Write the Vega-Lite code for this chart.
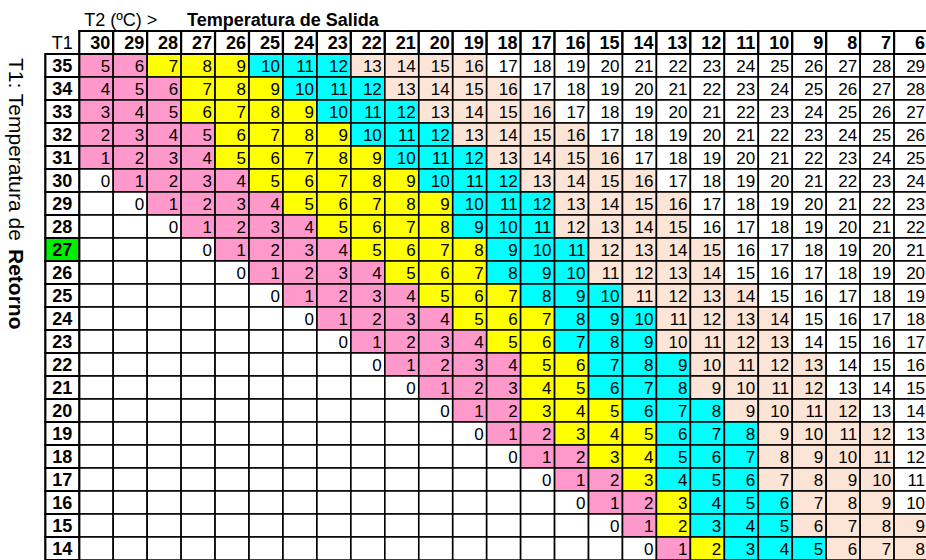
{
"$schema": "https://vega.github.io/schema/vega-lite/v6.json",
"width": 914.65, "height": 552,
"autosize": {"type": "none"},
"padding": {"left": 11.35, "top": 8, "right": 0, "bottom": 0},
"background": "white",
"config": {"view": {"stroke": null}, "font": "Liberation Sans"},
"datasets": {
"cells": [
{"a":"35","b":"30","v":5,"k":"p"},{"a":"35","b":"29","v":6,"k":"p"},{"a":"35","b":"28","v":7,"k":"y"},{"a":"35","b":"27","v":8,"k":"y"},{"a":"35","b":"26","v":9,"k":"y"},{"a":"35","b":"25","v":10,"k":"c"},{"a":"35","b":"24","v":11,"k":"c"},{"a":"35","b":"23","v":12,"k":"c"},{"a":"35","b":"22","v":13,"k":"o"},{"a":"35","b":"21","v":14,"k":"o"},{"a":"35","b":"20","v":15,"k":"o"},{"a":"35","b":"19","v":16,"k":"o"},{"a":"35","b":"18","v":17,"k":"w"},{"a":"35","b":"17","v":18,"k":"w"},{"a":"35","b":"16","v":19,"k":"w"},{"a":"35","b":"15","v":20,"k":"w"},{"a":"35","b":"14","v":21,"k":"w"},{"a":"35","b":"13","v":22,"k":"w"},{"a":"35","b":"12","v":23,"k":"w"},{"a":"35","b":"11","v":24,"k":"w"},{"a":"35","b":"10","v":25,"k":"w"},{"a":"35","b":"9","v":26,"k":"w"},{"a":"35","b":"8","v":27,"k":"w"},{"a":"35","b":"7","v":28,"k":"w"},{"a":"35","b":"6","v":29,"k":"w"},
{"a":"34","b":"30","v":4,"k":"p"},{"a":"34","b":"29","v":5,"k":"p"},{"a":"34","b":"28","v":6,"k":"p"},{"a":"34","b":"27","v":7,"k":"y"},{"a":"34","b":"26","v":8,"k":"y"},{"a":"34","b":"25","v":9,"k":"y"},{"a":"34","b":"24","v":10,"k":"c"},{"a":"34","b":"23","v":11,"k":"c"},{"a":"34","b":"22","v":12,"k":"c"},{"a":"34","b":"21","v":13,"k":"o"},{"a":"34","b":"20","v":14,"k":"o"},{"a":"34","b":"19","v":15,"k":"o"},{"a":"34","b":"18","v":16,"k":"o"},{"a":"34","b":"17","v":17,"k":"w"},{"a":"34","b":"16","v":18,"k":"w"},{"a":"34","b":"15","v":19,"k":"w"},{"a":"34","b":"14","v":20,"k":"w"},{"a":"34","b":"13","v":21,"k":"w"},{"a":"34","b":"12","v":22,"k":"w"},{"a":"34","b":"11","v":23,"k":"w"},{"a":"34","b":"10","v":24,"k":"w"},{"a":"34","b":"9","v":25,"k":"w"},{"a":"34","b":"8","v":26,"k":"w"},{"a":"34","b":"7","v":27,"k":"w"},{"a":"34","b":"6","v":28,"k":"w"},
{"a":"33","b":"30","v":3,"k":"p"},{"a":"33","b":"29","v":4,"k":"p"},{"a":"33","b":"28","v":5,"k":"p"},{"a":"33","b":"27","v":6,"k":"y"},{"a":"33","b":"26","v":7,"k":"y"},{"a":"33","b":"25","v":8,"k":"y"},{"a":"33","b":"24","v":9,"k":"y"},{"a":"33","b":"23","v":10,"k":"c"},{"a":"33","b":"22","v":11,"k":"c"},{"a":"33","b":"21","v":12,"k":"c"},{"a":"33","b":"20","v":13,"k":"o"},{"a":"33","b":"19","v":14,"k":"o"},{"a":"33","b":"18","v":15,"k":"o"},{"a":"33","b":"17","v":16,"k":"o"},{"a":"33","b":"16","v":17,"k":"w"},{"a":"33","b":"15","v":18,"k":"w"},{"a":"33","b":"14","v":19,"k":"w"},{"a":"33","b":"13","v":20,"k":"w"},{"a":"33","b":"12","v":21,"k":"w"},{"a":"33","b":"11","v":22,"k":"w"},{"a":"33","b":"10","v":23,"k":"w"},{"a":"33","b":"9","v":24,"k":"w"},{"a":"33","b":"8","v":25,"k":"w"},{"a":"33","b":"7","v":26,"k":"w"},{"a":"33","b":"6","v":27,"k":"w"},
{"a":"32","b":"30","v":2,"k":"p"},{"a":"32","b":"29","v":3,"k":"p"},{"a":"32","b":"28","v":4,"k":"p"},{"a":"32","b":"27","v":5,"k":"p"},{"a":"32","b":"26","v":6,"k":"y"},{"a":"32","b":"25","v":7,"k":"y"},{"a":"32","b":"24","v":8,"k":"y"},{"a":"32","b":"23","v":9,"k":"y"},{"a":"32","b":"22","v":10,"k":"c"},{"a":"32","b":"21","v":11,"k":"c"},{"a":"32","b":"20","v":12,"k":"c"},{"a":"32","b":"19","v":13,"k":"o"},{"a":"32","b":"18","v":14,"k":"o"},{"a":"32","b":"17","v":15,"k":"o"},{"a":"32","b":"16","v":16,"k":"o"},{"a":"32","b":"15","v":17,"k":"w"},{"a":"32","b":"14","v":18,"k":"w"},{"a":"32","b":"13","v":19,"k":"w"},{"a":"32","b":"12","v":20,"k":"w"},{"a":"32","b":"11","v":21,"k":"w"},{"a":"32","b":"10","v":22,"k":"w"},{"a":"32","b":"9","v":23,"k":"w"},{"a":"32","b":"8","v":24,"k":"w"},{"a":"32","b":"7","v":25,"k":"w"},{"a":"32","b":"6","v":26,"k":"w"},
{"a":"31","b":"30","v":1,"k":"p"},{"a":"31","b":"29","v":2,"k":"p"},{"a":"31","b":"28","v":3,"k":"p"},{"a":"31","b":"27","v":4,"k":"p"},{"a":"31","b":"26","v":5,"k":"y"},{"a":"31","b":"25","v":6,"k":"y"},{"a":"31","b":"24","v":7,"k":"y"},{"a":"31","b":"23","v":8,"k":"y"},{"a":"31","b":"22","v":9,"k":"y"},{"a":"31","b":"21","v":10,"k":"c"},{"a":"31","b":"20","v":11,"k":"c"},{"a":"31","b":"19","v":12,"k":"c"},{"a":"31","b":"18","v":13,"k":"o"},{"a":"31","b":"17","v":14,"k":"o"},{"a":"31","b":"16","v":15,"k":"o"},{"a":"31","b":"15","v":16,"k":"o"},{"a":"31","b":"14","v":17,"k":"w"},{"a":"31","b":"13","v":18,"k":"w"},{"a":"31","b":"12","v":19,"k":"w"},{"a":"31","b":"11","v":20,"k":"w"},{"a":"31","b":"10","v":21,"k":"w"},{"a":"31","b":"9","v":22,"k":"w"},{"a":"31","b":"8","v":23,"k":"w"},{"a":"31","b":"7","v":24,"k":"w"},{"a":"31","b":"6","v":25,"k":"w"},
{"a":"30","b":"30","v":0,"k":"w"},{"a":"30","b":"29","v":1,"k":"p"},{"a":"30","b":"28","v":2,"k":"p"},{"a":"30","b":"27","v":3,"k":"p"},{"a":"30","b":"26","v":4,"k":"p"},{"a":"30","b":"25","v":5,"k":"y"},{"a":"30","b":"24","v":6,"k":"y"},{"a":"30","b":"23","v":7,"k":"y"},{"a":"30","b":"22","v":8,"k":"y"},{"a":"30","b":"21","v":9,"k":"y"},{"a":"30","b":"20","v":10,"k":"c"},{"a":"30","b":"19","v":11,"k":"c"},{"a":"30","b":"18","v":12,"k":"c"},{"a":"30","b":"17","v":13,"k":"o"},{"a":"30","b":"16","v":14,"k":"o"},{"a":"30","b":"15","v":15,"k":"o"},{"a":"30","b":"14","v":16,"k":"o"},{"a":"30","b":"13","v":17,"k":"w"},{"a":"30","b":"12","v":18,"k":"w"},{"a":"30","b":"11","v":19,"k":"w"},{"a":"30","b":"10","v":20,"k":"w"},{"a":"30","b":"9","v":21,"k":"w"},{"a":"30","b":"8","v":22,"k":"w"},{"a":"30","b":"7","v":23,"k":"w"},{"a":"30","b":"6","v":24,"k":"w"},
{"a":"29","b":"30","k":"w"},{"a":"29","b":"29","v":0,"k":"w"},{"a":"29","b":"28","v":1,"k":"p"},{"a":"29","b":"27","v":2,"k":"p"},{"a":"29","b":"26","v":3,"k":"p"},{"a":"29","b":"25","v":4,"k":"p"},{"a":"29","b":"24","v":5,"k":"y"},{"a":"29","b":"23","v":6,"k":"y"},{"a":"29","b":"22","v":7,"k":"y"},{"a":"29","b":"21","v":8,"k":"y"},{"a":"29","b":"20","v":9,"k":"y"},{"a":"29","b":"19","v":10,"k":"c"},{"a":"29","b":"18","v":11,"k":"c"},{"a":"29","b":"17","v":12,"k":"c"},{"a":"29","b":"16","v":13,"k":"o"},{"a":"29","b":"15","v":14,"k":"o"},{"a":"29","b":"14","v":15,"k":"o"},{"a":"29","b":"13","v":16,"k":"o"},{"a":"29","b":"12","v":17,"k":"w"},{"a":"29","b":"11","v":18,"k":"w"},{"a":"29","b":"10","v":19,"k":"w"},{"a":"29","b":"9","v":20,"k":"w"},{"a":"29","b":"8","v":21,"k":"w"},{"a":"29","b":"7","v":22,"k":"w"},{"a":"29","b":"6","v":23,"k":"w"},
{"a":"28","b":"30","k":"w"},{"a":"28","b":"29","k":"w"},{"a":"28","b":"28","v":0,"k":"w"},{"a":"28","b":"27","v":1,"k":"p"},{"a":"28","b":"26","v":2,"k":"p"},{"a":"28","b":"25","v":3,"k":"p"},{"a":"28","b":"24","v":4,"k":"p"},{"a":"28","b":"23","v":5,"k":"y"},{"a":"28","b":"22","v":6,"k":"y"},{"a":"28","b":"21","v":7,"k":"y"},{"a":"28","b":"20","v":8,"k":"y"},{"a":"28","b":"19","v":9,"k":"c"},{"a":"28","b":"18","v":10,"k":"c"},{"a":"28","b":"17","v":11,"k":"c"},{"a":"28","b":"16","v":12,"k":"o"},{"a":"28","b":"15","v":13,"k":"o"},{"a":"28","b":"14","v":14,"k":"o"},{"a":"28","b":"13","v":15,"k":"o"},{"a":"28","b":"12","v":16,"k":"w"},{"a":"28","b":"11","v":17,"k":"w"},{"a":"28","b":"10","v":18,"k":"w"},{"a":"28","b":"9","v":19,"k":"w"},{"a":"28","b":"8","v":20,"k":"w"},{"a":"28","b":"7","v":21,"k":"w"},{"a":"28","b":"6","v":22,"k":"w"},
{"a":"27","b":"30","k":"w"},{"a":"27","b":"29","k":"w"},{"a":"27","b":"28","k":"w"},{"a":"27","b":"27","v":0,"k":"w"},{"a":"27","b":"26","v":1,"k":"p"},{"a":"27","b":"25","v":2,"k":"p"},{"a":"27","b":"24","v":3,"k":"p"},{"a":"27","b":"23","v":4,"k":"p"},{"a":"27","b":"22","v":5,"k":"y"},{"a":"27","b":"21","v":6,"k":"y"},{"a":"27","b":"20","v":7,"k":"y"},{"a":"27","b":"19","v":8,"k":"y"},{"a":"27","b":"18","v":9,"k":"c"},{"a":"27","b":"17","v":10,"k":"c"},{"a":"27","b":"16","v":11,"k":"c"},{"a":"27","b":"15","v":12,"k":"o"},{"a":"27","b":"14","v":13,"k":"o"},{"a":"27","b":"13","v":14,"k":"o"},{"a":"27","b":"12","v":15,"k":"o"},{"a":"27","b":"11","v":16,"k":"w"},{"a":"27","b":"10","v":17,"k":"w"},{"a":"27","b":"9","v":18,"k":"w"},{"a":"27","b":"8","v":19,"k":"w"},{"a":"27","b":"7","v":20,"k":"w"},{"a":"27","b":"6","v":21,"k":"w"},
{"a":"26","b":"30","k":"w"},{"a":"26","b":"29","k":"w"},{"a":"26","b":"28","k":"w"},{"a":"26","b":"27","k":"w"},{"a":"26","b":"26","v":0,"k":"w"},{"a":"26","b":"25","v":1,"k":"p"},{"a":"26","b":"24","v":2,"k":"p"},{"a":"26","b":"23","v":3,"k":"p"},{"a":"26","b":"22","v":4,"k":"p"},{"a":"26","b":"21","v":5,"k":"y"},{"a":"26","b":"20","v":6,"k":"y"},{"a":"26","b":"19","v":7,"k":"y"},{"a":"26","b":"18","v":8,"k":"c"},{"a":"26","b":"17","v":9,"k":"c"},{"a":"26","b":"16","v":10,"k":"c"},{"a":"26","b":"15","v":11,"k":"o"},{"a":"26","b":"14","v":12,"k":"o"},{"a":"26","b":"13","v":13,"k":"o"},{"a":"26","b":"12","v":14,"k":"o"},{"a":"26","b":"11","v":15,"k":"w"},{"a":"26","b":"10","v":16,"k":"w"},{"a":"26","b":"9","v":17,"k":"w"},{"a":"26","b":"8","v":18,"k":"w"},{"a":"26","b":"7","v":19,"k":"w"},{"a":"26","b":"6","v":20,"k":"w"},
{"a":"25","b":"30","k":"w"},{"a":"25","b":"29","k":"w"},{"a":"25","b":"28","k":"w"},{"a":"25","b":"27","k":"w"},{"a":"25","b":"26","k":"w"},{"a":"25","b":"25","v":0,"k":"w"},{"a":"25","b":"24","v":1,"k":"p"},{"a":"25","b":"23","v":2,"k":"p"},{"a":"25","b":"22","v":3,"k":"p"},{"a":"25","b":"21","v":4,"k":"p"},{"a":"25","b":"20","v":5,"k":"y"},{"a":"25","b":"19","v":6,"k":"y"},{"a":"25","b":"18","v":7,"k":"y"},{"a":"25","b":"17","v":8,"k":"c"},{"a":"25","b":"16","v":9,"k":"c"},{"a":"25","b":"15","v":10,"k":"c"},{"a":"25","b":"14","v":11,"k":"o"},{"a":"25","b":"13","v":12,"k":"o"},{"a":"25","b":"12","v":13,"k":"o"},{"a":"25","b":"11","v":14,"k":"o"},{"a":"25","b":"10","v":15,"k":"w"},{"a":"25","b":"9","v":16,"k":"w"},{"a":"25","b":"8","v":17,"k":"w"},{"a":"25","b":"7","v":18,"k":"w"},{"a":"25","b":"6","v":19,"k":"w"},
{"a":"24","b":"30","k":"w"},{"a":"24","b":"29","k":"w"},{"a":"24","b":"28","k":"w"},{"a":"24","b":"27","k":"w"},{"a":"24","b":"26","k":"w"},{"a":"24","b":"25","k":"w"},{"a":"24","b":"24","v":0,"k":"w"},{"a":"24","b":"23","v":1,"k":"p"},{"a":"24","b":"22","v":2,"k":"p"},{"a":"24","b":"21","v":3,"k":"p"},{"a":"24","b":"20","v":4,"k":"p"},{"a":"24","b":"19","v":5,"k":"y"},{"a":"24","b":"18","v":6,"k":"y"},{"a":"24","b":"17","v":7,"k":"y"},{"a":"24","b":"16","v":8,"k":"c"},{"a":"24","b":"15","v":9,"k":"c"},{"a":"24","b":"14","v":10,"k":"c"},{"a":"24","b":"13","v":11,"k":"o"},{"a":"24","b":"12","v":12,"k":"o"},{"a":"24","b":"11","v":13,"k":"o"},{"a":"24","b":"10","v":14,"k":"o"},{"a":"24","b":"9","v":15,"k":"w"},{"a":"24","b":"8","v":16,"k":"w"},{"a":"24","b":"7","v":17,"k":"w"},{"a":"24","b":"6","v":18,"k":"w"},
{"a":"23","b":"30","k":"w"},{"a":"23","b":"29","k":"w"},{"a":"23","b":"28","k":"w"},{"a":"23","b":"27","k":"w"},{"a":"23","b":"26","k":"w"},{"a":"23","b":"25","k":"w"},{"a":"23","b":"24","k":"w"},{"a":"23","b":"23","v":0,"k":"w"},{"a":"23","b":"22","v":1,"k":"p"},{"a":"23","b":"21","v":2,"k":"p"},{"a":"23","b":"20","v":3,"k":"p"},{"a":"23","b":"19","v":4,"k":"p"},{"a":"23","b":"18","v":5,"k":"y"},{"a":"23","b":"17","v":6,"k":"y"},{"a":"23","b":"16","v":7,"k":"c"},{"a":"23","b":"15","v":8,"k":"c"},{"a":"23","b":"14","v":9,"k":"c"},{"a":"23","b":"13","v":10,"k":"o"},{"a":"23","b":"12","v":11,"k":"o"},{"a":"23","b":"11","v":12,"k":"o"},{"a":"23","b":"10","v":13,"k":"o"},{"a":"23","b":"9","v":14,"k":"w"},{"a":"23","b":"8","v":15,"k":"w"},{"a":"23","b":"7","v":16,"k":"w"},{"a":"23","b":"6","v":17,"k":"w"},
{"a":"22","b":"30","k":"w"},{"a":"22","b":"29","k":"w"},{"a":"22","b":"28","k":"w"},{"a":"22","b":"27","k":"w"},{"a":"22","b":"26","k":"w"},{"a":"22","b":"25","k":"w"},{"a":"22","b":"24","k":"w"},{"a":"22","b":"23","k":"w"},{"a":"22","b":"22","v":0,"k":"w"},{"a":"22","b":"21","v":1,"k":"p"},{"a":"22","b":"20","v":2,"k":"p"},{"a":"22","b":"19","v":3,"k":"p"},{"a":"22","b":"18","v":4,"k":"p"},{"a":"22","b":"17","v":5,"k":"y"},{"a":"22","b":"16","v":6,"k":"y"},{"a":"22","b":"15","v":7,"k":"c"},{"a":"22","b":"14","v":8,"k":"c"},{"a":"22","b":"13","v":9,"k":"c"},{"a":"22","b":"12","v":10,"k":"o"},{"a":"22","b":"11","v":11,"k":"o"},{"a":"22","b":"10","v":12,"k":"o"},{"a":"22","b":"9","v":13,"k":"o"},{"a":"22","b":"8","v":14,"k":"w"},{"a":"22","b":"7","v":15,"k":"w"},{"a":"22","b":"6","v":16,"k":"w"},
{"a":"21","b":"30","k":"w"},{"a":"21","b":"29","k":"w"},{"a":"21","b":"28","k":"w"},{"a":"21","b":"27","k":"w"},{"a":"21","b":"26","k":"w"},{"a":"21","b":"25","k":"w"},{"a":"21","b":"24","k":"w"},{"a":"21","b":"23","k":"w"},{"a":"21","b":"22","k":"w"},{"a":"21","b":"21","v":0,"k":"w"},{"a":"21","b":"20","v":1,"k":"p"},{"a":"21","b":"19","v":2,"k":"p"},{"a":"21","b":"18","v":3,"k":"p"},{"a":"21","b":"17","v":4,"k":"y"},{"a":"21","b":"16","v":5,"k":"y"},{"a":"21","b":"15","v":6,"k":"c"},{"a":"21","b":"14","v":7,"k":"c"},{"a":"21","b":"13","v":8,"k":"c"},{"a":"21","b":"12","v":9,"k":"o"},{"a":"21","b":"11","v":10,"k":"o"},{"a":"21","b":"10","v":11,"k":"o"},{"a":"21","b":"9","v":12,"k":"o"},{"a":"21","b":"8","v":13,"k":"w"},{"a":"21","b":"7","v":14,"k":"w"},{"a":"21","b":"6","v":15,"k":"w"},
{"a":"20","b":"30","k":"w"},{"a":"20","b":"29","k":"w"},{"a":"20","b":"28","k":"w"},{"a":"20","b":"27","k":"w"},{"a":"20","b":"26","k":"w"},{"a":"20","b":"25","k":"w"},{"a":"20","b":"24","k":"w"},{"a":"20","b":"23","k":"w"},{"a":"20","b":"22","k":"w"},{"a":"20","b":"21","k":"w"},{"a":"20","b":"20","v":0,"k":"w"},{"a":"20","b":"19","v":1,"k":"p"},{"a":"20","b":"18","v":2,"k":"p"},{"a":"20","b":"17","v":3,"k":"y"},{"a":"20","b":"16","v":4,"k":"y"},{"a":"20","b":"15","v":5,"k":"y"},{"a":"20","b":"14","v":6,"k":"c"},{"a":"20","b":"13","v":7,"k":"c"},{"a":"20","b":"12","v":8,"k":"c"},{"a":"20","b":"11","v":9,"k":"o"},{"a":"20","b":"10","v":10,"k":"o"},{"a":"20","b":"9","v":11,"k":"o"},{"a":"20","b":"8","v":12,"k":"o"},{"a":"20","b":"7","v":13,"k":"w"},{"a":"20","b":"6","v":14,"k":"w"},
{"a":"19","b":"30","k":"w"},{"a":"19","b":"29","k":"w"},{"a":"19","b":"28","k":"w"},{"a":"19","b":"27","k":"w"},{"a":"19","b":"26","k":"w"},{"a":"19","b":"25","k":"w"},{"a":"19","b":"24","k":"w"},{"a":"19","b":"23","k":"w"},{"a":"19","b":"22","k":"w"},{"a":"19","b":"21","k":"w"},{"a":"19","b":"20","k":"w"},{"a":"19","b":"19","v":0,"k":"w"},{"a":"19","b":"18","v":1,"k":"p"},{"a":"19","b":"17","v":2,"k":"p"},{"a":"19","b":"16","v":3,"k":"y"},{"a":"19","b":"15","v":4,"k":"y"},{"a":"19","b":"14","v":5,"k":"y"},{"a":"19","b":"13","v":6,"k":"c"},{"a":"19","b":"12","v":7,"k":"c"},{"a":"19","b":"11","v":8,"k":"c"},{"a":"19","b":"10","v":9,"k":"o"},{"a":"19","b":"9","v":10,"k":"o"},{"a":"19","b":"8","v":11,"k":"o"},{"a":"19","b":"7","v":12,"k":"o"},{"a":"19","b":"6","v":13,"k":"w"},
{"a":"18","b":"30","k":"w"},{"a":"18","b":"29","k":"w"},{"a":"18","b":"28","k":"w"},{"a":"18","b":"27","k":"w"},{"a":"18","b":"26","k":"w"},{"a":"18","b":"25","k":"w"},{"a":"18","b":"24","k":"w"},{"a":"18","b":"23","k":"w"},{"a":"18","b":"22","k":"w"},{"a":"18","b":"21","k":"w"},{"a":"18","b":"20","k":"w"},{"a":"18","b":"19","k":"w"},{"a":"18","b":"18","v":0,"k":"w"},{"a":"18","b":"17","v":1,"k":"p"},{"a":"18","b":"16","v":2,"k":"p"},{"a":"18","b":"15","v":3,"k":"y"},{"a":"18","b":"14","v":4,"k":"y"},{"a":"18","b":"13","v":5,"k":"c"},{"a":"18","b":"12","v":6,"k":"c"},{"a":"18","b":"11","v":7,"k":"c"},{"a":"18","b":"10","v":8,"k":"o"},{"a":"18","b":"9","v":9,"k":"o"},{"a":"18","b":"8","v":10,"k":"o"},{"a":"18","b":"7","v":11,"k":"o"},{"a":"18","b":"6","v":12,"k":"w"},
{"a":"17","b":"30","k":"w"},{"a":"17","b":"29","k":"w"},{"a":"17","b":"28","k":"w"},{"a":"17","b":"27","k":"w"},{"a":"17","b":"26","k":"w"},{"a":"17","b":"25","k":"w"},{"a":"17","b":"24","k":"w"},{"a":"17","b":"23","k":"w"},{"a":"17","b":"22","k":"w"},{"a":"17","b":"21","k":"w"},{"a":"17","b":"20","k":"w"},{"a":"17","b":"19","k":"w"},{"a":"17","b":"18","k":"w"},{"a":"17","b":"17","v":0,"k":"w"},{"a":"17","b":"16","v":1,"k":"p"},{"a":"17","b":"15","v":2,"k":"p"},{"a":"17","b":"14","v":3,"k":"y"},{"a":"17","b":"13","v":4,"k":"c"},{"a":"17","b":"12","v":5,"k":"c"},{"a":"17","b":"11","v":6,"k":"c"},{"a":"17","b":"10","v":7,"k":"o"},{"a":"17","b":"9","v":8,"k":"o"},{"a":"17","b":"8","v":9,"k":"o"},{"a":"17","b":"7","v":10,"k":"o"},{"a":"17","b":"6","v":11,"k":"w"},
{"a":"16","b":"30","k":"w"},{"a":"16","b":"29","k":"w"},{"a":"16","b":"28","k":"w"},{"a":"16","b":"27","k":"w"},{"a":"16","b":"26","k":"w"},{"a":"16","b":"25","k":"w"},{"a":"16","b":"24","k":"w"},{"a":"16","b":"23","k":"w"},{"a":"16","b":"22","k":"w"},{"a":"16","b":"21","k":"w"},{"a":"16","b":"20","k":"w"},{"a":"16","b":"19","k":"w"},{"a":"16","b":"18","k":"w"},{"a":"16","b":"17","k":"w"},{"a":"16","b":"16","v":0,"k":"w"},{"a":"16","b":"15","v":1,"k":"p"},{"a":"16","b":"14","v":2,"k":"p"},{"a":"16","b":"13","v":3,"k":"y"},{"a":"16","b":"12","v":4,"k":"c"},{"a":"16","b":"11","v":5,"k":"c"},{"a":"16","b":"10","v":6,"k":"c"},{"a":"16","b":"9","v":7,"k":"o"},{"a":"16","b":"8","v":8,"k":"o"},{"a":"16","b":"7","v":9,"k":"o"},{"a":"16","b":"6","v":10,"k":"w"},
{"a":"15","b":"30","k":"w"},{"a":"15","b":"29","k":"w"},{"a":"15","b":"28","k":"w"},{"a":"15","b":"27","k":"w"},{"a":"15","b":"26","k":"w"},{"a":"15","b":"25","k":"w"},{"a":"15","b":"24","k":"w"},{"a":"15","b":"23","k":"w"},{"a":"15","b":"22","k":"w"},{"a":"15","b":"21","k":"w"},{"a":"15","b":"20","k":"w"},{"a":"15","b":"19","k":"w"},{"a":"15","b":"18","k":"w"},{"a":"15","b":"17","k":"w"},{"a":"15","b":"16","k":"w"},{"a":"15","b":"15","v":0,"k":"w"},{"a":"15","b":"14","v":1,"k":"p"},{"a":"15","b":"13","v":2,"k":"y"},{"a":"15","b":"12","v":3,"k":"c"},{"a":"15","b":"11","v":4,"k":"c"},{"a":"15","b":"10","v":5,"k":"c"},{"a":"15","b":"9","v":6,"k":"o"},{"a":"15","b":"8","v":7,"k":"o"},{"a":"15","b":"7","v":8,"k":"o"},{"a":"15","b":"6","v":9,"k":"o"},
{"a":"14","b":"30","k":"w"},{"a":"14","b":"29","k":"w"},{"a":"14","b":"28","k":"w"},{"a":"14","b":"27","k":"w"},{"a":"14","b":"26","k":"w"},{"a":"14","b":"25","k":"w"},{"a":"14","b":"24","k":"w"},{"a":"14","b":"23","k":"w"},{"a":"14","b":"22","k":"w"},{"a":"14","b":"21","k":"w"},{"a":"14","b":"20","k":"w"},{"a":"14","b":"19","k":"w"},{"a":"14","b":"18","k":"w"},{"a":"14","b":"17","k":"w"},{"a":"14","b":"16","k":"w"},{"a":"14","b":"15","k":"w"},{"a":"14","b":"14","v":0,"k":"w"},{"a":"14","b":"13","v":1,"k":"p"},{"a":"14","b":"12","v":2,"k":"y"},{"a":"14","b":"11","v":3,"k":"c"},{"a":"14","b":"10","v":4,"k":"c"},{"a":"14","b":"9","v":5,"k":"c"},{"a":"14","b":"8","v":6,"k":"o"},{"a":"14","b":"7","v":7,"k":"o"},{"a":"14","b":"6","v":8,"k":"o"}
],
"hdr": [
{"a":"H","b":"30","t":"30","k":"w"},{"a":"H","b":"29","t":"29","k":"w"},{"a":"H","b":"28","t":"28","k":"w"},{"a":"H","b":"27","t":"27","k":"w"},{"a":"H","b":"26","t":"26","k":"w"},{"a":"H","b":"25","t":"25","k":"w"},{"a":"H","b":"24","t":"24","k":"w"},{"a":"H","b":"23","t":"23","k":"w"},{"a":"H","b":"22","t":"22","k":"w"},{"a":"H","b":"21","t":"21","k":"w"},{"a":"H","b":"20","t":"20","k":"w"},{"a":"H","b":"19","t":"19","k":"w"},{"a":"H","b":"18","t":"18","k":"w"},{"a":"H","b":"17","t":"17","k":"w"},{"a":"H","b":"16","t":"16","k":"w"},{"a":"H","b":"15","t":"15","k":"w"},{"a":"H","b":"14","t":"14","k":"w"},{"a":"H","b":"13","t":"13","k":"w"},{"a":"H","b":"12","t":"12","k":"w"},{"a":"H","b":"11","t":"11","k":"w"},{"a":"H","b":"10","t":"10","k":"w"},{"a":"H","b":"9","t":"9","k":"w"},{"a":"H","b":"8","t":"8","k":"w"},{"a":"H","b":"7","t":"7","k":"w"},{"a":"H","b":"6","t":"6","k":"w"},
{"a":"35","b":"T1","t":"35","k":"w"},{"a":"34","b":"T1","t":"34","k":"w"},{"a":"33","b":"T1","t":"33","k":"w"},{"a":"32","b":"T1","t":"32","k":"w"},{"a":"31","b":"T1","t":"31","k":"w"},{"a":"30","b":"T1","t":"30","k":"w"},{"a":"29","b":"T1","t":"29","k":"w"},{"a":"28","b":"T1","t":"28","k":"w"},{"a":"27","b":"T1","t":"27","k":"g"},{"a":"26","b":"T1","t":"26","k":"w"},{"a":"25","b":"T1","t":"25","k":"w"},{"a":"24","b":"T1","t":"24","k":"w"},{"a":"23","b":"T1","t":"23","k":"w"},{"a":"22","b":"T1","t":"22","k":"w"},{"a":"21","b":"T1","t":"21","k":"w"},{"a":"20","b":"T1","t":"20","k":"w"},{"a":"19","b":"T1","t":"19","k":"w"},{"a":"18","b":"T1","t":"18","k":"w"},{"a":"17","b":"T1","t":"17","k":"w"},{"a":"16","b":"T1","t":"16","k":"w"},{"a":"15","b":"T1","t":"15","k":"w"},{"a":"14","b":"T1","t":"14","k":"w"}
],
"ann": [
{"a":"t","b":"30","t":"T2 (ºC) >","s":"n"},
{"a":"t","b":"27","t":"Temperatura de Salida","s":"b"},
{"a":"H","b":"T1","t":"T1","s":"c"},
{"a":"35","b":"L","t":"T1: Temperatura de ","s":"l"},
{"a":"35","b":"L","t":"Retorno","s":"r"}
]
},
"layer": [
{"data":{"name":"cells"},
 "mark":{"type":"rect","stroke":"black","strokeWidth":1.6},
 "encoding":{
  "x":{"field":"b","type":"ordinal","scale":{"type":"band","domain":["L","T1","30","29","28","27","26","25","24","23","22","21","20","19","18","17","16","15","14","13","12","11","10","9","8","7","6"],"range":[0,916.7],"paddingInner":0,"paddingOuter":0},"axis":null},
  "y":{"field":"a","type":"ordinal","scale":{"type":"band","domain":["t","H","35","34","33","32","31","30","29","28","27","26","25","24","23","22","21","20","19","18","17","16","15","14"],"range":[0,552],"paddingInner":0,"paddingOuter":0},"axis":null},
  "fill":{"field":"k","type":"nominal","scale":{"domain":["p","y","c","o","w","g"],"range":["#ff99cc","#ffff00","#00ffff","#fce4d6","#ffffff","#00ee00"]},"legend":null}
 }},
{"data":{"name":"hdr"},
 "mark":{"type":"rect","stroke":"black","strokeWidth":2.2},
 "encoding":{
  "x":{"field":"b","type":"ordinal","scale":{"type":"band","domain":["L","T1","30","29","28","27","26","25","24","23","22","21","20","19","18","17","16","15","14","13","12","11","10","9","8","7","6"],"range":[0,916.7],"paddingInner":0,"paddingOuter":0},"axis":null},
  "y":{"field":"a","type":"ordinal","scale":{"type":"band","domain":["t","H","35","34","33","32","31","30","29","28","27","26","25","24","23","22","21","20","19","18","17","16","15","14"],"range":[0,552],"paddingInner":0,"paddingOuter":0},"axis":null},
  "fill":{"field":"k","type":"nominal","scale":{"domain":["p","y","c","o","w","g"],"range":["#ff99cc","#ffff00","#00ffff","#fce4d6","#ffffff","#00ee00"]},"legend":null}
 }},
{"data":{"name":"cells"},
 "transform":[{"filter":"isValid(datum.v)"}],
 "mark":{"type":"text","align":"right","baseline":"middle","dx":-3,"dy":1,"fontSize":17,"font":"Liberation Sans","color":"black"},
 "encoding":{
  "x":{"field":"b","type":"ordinal","bandPosition":1,"scale":{"type":"band","domain":["L","T1","30","29","28","27","26","25","24","23","22","21","20","19","18","17","16","15","14","13","12","11","10","9","8","7","6"],"range":[0,916.7],"paddingInner":0,"paddingOuter":0},"axis":null},
  "y":{"field":"a","type":"ordinal","scale":{"type":"band","domain":["t","H","35","34","33","32","31","30","29","28","27","26","25","24","23","22","21","20","19","18","17","16","15","14"],"range":[0,552],"paddingInner":0,"paddingOuter":0},"axis":null},
  "text":{"field":"v","type":"quantitative"}
 }},
{"data":{"name":"hdr"},
 "transform":[{"filter":"datum.a == 'H'"}],
 "mark":{"type":"text","align":"right","baseline":"middle","dx":-3,"dy":1,"fontSize":18,"fontWeight":"bold","font":"Liberation Sans","color":"black"},
 "encoding":{
  "x":{"field":"b","type":"ordinal","bandPosition":1,"scale":{"type":"band","domain":["L","T1","30","29","28","27","26","25","24","23","22","21","20","19","18","17","16","15","14","13","12","11","10","9","8","7","6"],"range":[0,916.7],"paddingInner":0,"paddingOuter":0},"axis":null},
  "y":{"field":"a","type":"ordinal","scale":{"type":"band","domain":["t","H","35","34","33","32","31","30","29","28","27","26","25","24","23","22","21","20","19","18","17","16","15","14"],"range":[0,552],"paddingInner":0,"paddingOuter":0},"axis":null},
  "text":{"field":"t","type":"nominal"}
 }},
{"data":{"name":"hdr"},
 "transform":[{"filter":"datum.b == 'T1'"}],
 "mark":{"type":"text","align":"center","baseline":"middle","dy":1,"fontSize":18,"fontWeight":"bold","font":"Liberation Sans","color":"black"},
 "encoding":{
  "x":{"field":"b","type":"ordinal","bandPosition":0.5,"scale":{"type":"band","domain":["L","T1","30","29","28","27","26","25","24","23","22","21","20","19","18","17","16","15","14","13","12","11","10","9","8","7","6"],"range":[0,916.7],"paddingInner":0,"paddingOuter":0},"axis":null},
  "y":{"field":"a","type":"ordinal","scale":{"type":"band","domain":["t","H","35","34","33","32","31","30","29","28","27","26","25","24","23","22","21","20","19","18","17","16","15","14"],"range":[0,552],"paddingInner":0,"paddingOuter":0},"axis":null},
  "text":{"field":"t","type":"nominal"}
 }},
{"data":{"name":"ann"},
 "transform":[{"filter":"datum.s == 'c'"}],
 "mark":{"type":"text","align":"center","baseline":"middle","dy":1,"fontSize":18,"font":"Liberation Sans","color":"black"},
 "encoding":{
  "x":{"field":"b","type":"ordinal","bandPosition":0.5,"scale":{"type":"band","domain":["L","T1","30","29","28","27","26","25","24","23","22","21","20","19","18","17","16","15","14","13","12","11","10","9","8","7","6"],"range":[0,916.7],"paddingInner":0,"paddingOuter":0},"axis":null},
  "y":{"field":"a","type":"ordinal","scale":{"type":"band","domain":["t","H","35","34","33","32","31","30","29","28","27","26","25","24","23","22","21","20","19","18","17","16","15","14"],"range":[0,552],"paddingInner":0,"paddingOuter":0},"axis":null},
  "text":{"field":"t","type":"nominal"}
 }},
{"data":{"name":"ann"},
 "transform":[{"filter":"datum.s == 'n'"}],
 "mark":{"type":"text","align":"left","baseline":"middle","dx":5,"dy":1,"fontSize":18,"font":"Liberation Sans","color":"black"},
 "encoding":{
  "x":{"field":"b","type":"ordinal","bandPosition":0,"scale":{"type":"band","domain":["L","T1","30","29","28","27","26","25","24","23","22","21","20","19","18","17","16","15","14","13","12","11","10","9","8","7","6"],"range":[0,916.7],"paddingInner":0,"paddingOuter":0},"axis":null},
  "y":{"field":"a","type":"ordinal","scale":{"type":"band","domain":["t","H","35","34","33","32","31","30","29","28","27","26","25","24","23","22","21","20","19","18","17","16","15","14"],"range":[0,552],"paddingInner":0,"paddingOuter":0},"axis":null},
  "text":{"field":"t","type":"nominal"}
 }},
{"data":{"name":"ann"},
 "transform":[{"filter":"datum.s == 'b'"}],
 "mark":{"type":"text","align":"left","baseline":"middle","dx":6,"dy":1,"fontSize":18,"fontWeight":"bold","font":"Liberation Sans","color":"black"},
 "encoding":{
  "x":{"field":"b","type":"ordinal","bandPosition":0,"scale":{"type":"band","domain":["L","T1","30","29","28","27","26","25","24","23","22","21","20","19","18","17","16","15","14","13","12","11","10","9","8","7","6"],"range":[0,916.7],"paddingInner":0,"paddingOuter":0},"axis":null},
  "y":{"field":"a","type":"ordinal","scale":{"type":"band","domain":["t","H","35","34","33","32","31","30","29","28","27","26","25","24","23","22","21","20","19","18","17","16","15","14"],"range":[0,552],"paddingInner":0,"paddingOuter":0},"axis":null},
  "text":{"field":"t","type":"nominal"}
 }},
{"data":{"name":"ann"},
 "transform":[{"filter":"datum.s == 'l'"}],
 "mark":{"type":"text","align":"left","baseline":"middle","angle":90,"dx":4,"dy":13,"fontSize":21,"font":"Liberation Sans","color":"black"},
 "encoding":{
  "x":{"field":"b","type":"ordinal","bandPosition":0.5,"scale":{"type":"band","domain":["L","T1","30","29","28","27","26","25","24","23","22","21","20","19","18","17","16","15","14","13","12","11","10","9","8","7","6"],"range":[0,916.7],"paddingInner":0,"paddingOuter":0},"axis":null},
  "y":{"field":"a","type":"ordinal","bandPosition":0,"scale":{"type":"band","domain":["t","H","35","34","33","32","31","30","29","28","27","26","25","24","23","22","21","20","19","18","17","16","15","14"],"range":[0,552],"paddingInner":0,"paddingOuter":0},"axis":null},
  "text":{"field":"t","type":"nominal"}
 }},
{"data":{"name":"ann"},
 "transform":[{"filter":"datum.s == 'r'"}],
 "mark":{"type":"text","align":"left","baseline":"middle","angle":90,"dx":195,"dy":13,"fontSize":21,"fontWeight":"bold","font":"Liberation Sans","color":"black"},
 "encoding":{
  "x":{"field":"b","type":"ordinal","bandPosition":0.5,"scale":{"type":"band","domain":["L","T1","30","29","28","27","26","25","24","23","22","21","20","19","18","17","16","15","14","13","12","11","10","9","8","7","6"],"range":[0,916.7],"paddingInner":0,"paddingOuter":0},"axis":null},
  "y":{"field":"a","type":"ordinal","bandPosition":0,"scale":{"type":"band","domain":["t","H","35","34","33","32","31","30","29","28","27","26","25","24","23","22","21","20","19","18","17","16","15","14"],"range":[0,552],"paddingInner":0,"paddingOuter":0},"axis":null},
  "text":{"field":"t","type":"nominal"}
 }}
]
}
